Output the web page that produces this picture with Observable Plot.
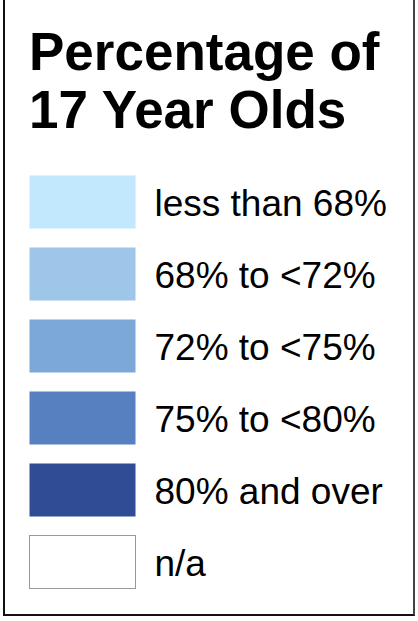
<!DOCTYPE html>
<html>
<head>
<meta charset="utf-8">
<script src="https://cdn.jsdelivr.net/npm/d3@7"></script>
<script src="https://cdn.jsdelivr.net/npm/@observablehq/plot@0.6"></script>
<style>
  html, body { margin: 0; padding: 0; background: #fff; overflow: hidden; }
  #wrap { position: relative; width: 418px; height: 621px; overflow: hidden; font-family: "Liberation Sans", Arial, sans-serif; }
  #frame { position: absolute; left: 3px; top: -10px; width: 412px; height: 626px; border-left: 2px solid #111; border-bottom: 2px solid #111; border-right: 2px solid #444; box-sizing: border-box; }
  #title { position: absolute; left: 29px; top: 22.6px; font-size: 53px; font-weight: bold; line-height: 58px; color: #000; white-space: nowrap; }
  #chart { position: absolute; left: 0; top: 150px; }
</style>
</head>
<body>
<div id="wrap">
  <div id="frame"></div>
  <div id="title">Percentage of<br>17 Year Olds</div>
  <div id="chart"></div>
</div>
<script>
const categories = ["less than 68%", "68% to <72%", "72% to <75%", "75% to <80%", "80% and over", "n/a"];
const colors = ["#C1E8FC", "#9DC6E9", "#7BA8D6", "#5680BF", "#304C95", "#FFFFFF"];
const strokes = ["none", "none", "none", "none", "none", "#999999"];

const data = categories.map((label, i) => ({label, stroke: strokes[i]}));

const plot = Plot.plot({
  width: 418,
  height: 471,
  margin: 0,
  style: {fontFamily: "'Liberation Sans', Arial, sans-serif", background: "transparent"},
  x: {domain: [0, 1], range: [29, 136], axis: null},
  y: {type: "band", domain: categories, range: [5.6, 458.4], padding: 0.254, align: 0.5, axis: null},
  color: {type: "ordinal", domain: categories, range: colors},
  marks: [
    Plot.barX(data, {x1: 0, x2: 1, y: "label", fill: "label", stroke: d => d.stroke, strokeWidth: 1, inset: 0.5}),
    Plot.text(data, {x: 1, y: "label", text: "label", dx: 18, dy: 2, textAnchor: "start", fontSize: 37, fill: "#000"})
  ]
});
document.getElementById("chart").appendChild(plot);
</script>
</body>
</html>
